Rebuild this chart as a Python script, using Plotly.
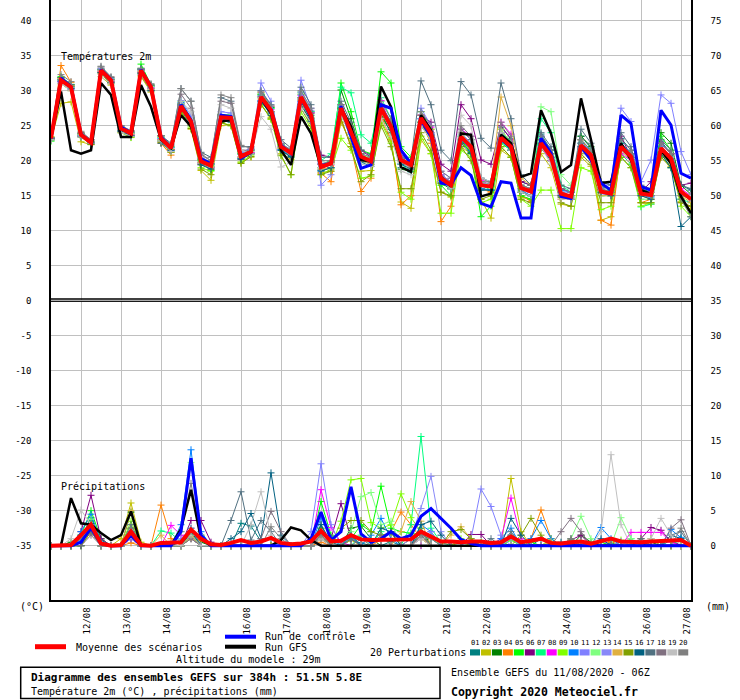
import pandas as pd
import plotly.graph_objects as go

# GEFS run 11/08/2020 06Z, 6-hourly steps up to 384h
times = pd.date_range("2020-08-11 06:00", periods=65, freq="6h")
day_ticks = pd.date_range("2020-08-12", periods=16, freq="D")
day_labels = ["12/08", "13/08", "14/08", "15/08", "16/08", "17/08", "18/08", "19/08",
              "20/08", "21/08", "22/08", "23/08", "24/08", "25/08", "26/08", "27/08"]

left_ticks = [40, 35, 30, 25, 20, 15, 10, 5, 0, -5, -10, -15, -20, -25, -30, -35]
right_ticks = [75, 70, 65, 60, 55, 50, 45, 40, 35, 30, 25, 20, 15, 10, 5, 0]

member_names = ["01", "02", "03", "04", "05", "06", "07", "08", "09", "10",
                "11", "12", "13", "14", "15", "16", "17", "18", "19", "20"]
member_colors = ["#008080", "#c0c000", "#008000", "#ff8000", "#00ff00", "#800080", "#00ff80",
                 "#ff00ff", "#80ff00", "#0080ff", "#8080ff", "#80ff80", "#8888f8", "#e0b040",
                 "#80a000", "#006080", "#507080", "#807080", "#c0c0c0", "#808080"]

# temperature 2m (C)
t_mean = [23.2, 31.5, 30.5, 23.7, 22.6, 32.9, 31.5, 24.6,
          23.9, 32.9, 30.5, 23.2, 21.8, 27.8, 25.6, 19.9,
          19.3, 26.2, 26.1, 20.6, 21.3, 29.1, 27.2, 22.0,
          21.1, 29.1, 26.5, 19.1, 19.6, 27.5, 24.1, 20.6,
          19.9, 27.5, 24.9, 20.1, 19.4, 26.1, 23.9, 17.5,
          16.5, 23.4, 22.0, 16.5, 16.3, 23.3, 22.0, 16.1,
          15.6, 22.5, 20.6, 15.3, 14.9, 22.2, 20.8, 15.6,
          15.3, 22.0, 20.6, 15.3, 15.1, 21.8, 20.3, 15.6,
          14.5]
t_ctrl = [23.2, 31.8, 30.6, 23.8, 22.6, 33.0, 31.6, 24.8,
          24.0, 33.0, 30.6, 23.4, 21.8, 28.0, 25.8, 20.3,
          19.6, 26.5, 26.3, 20.4, 21.2, 29.0, 27.2, 22.2,
          21.0, 29.0, 26.2, 19.3, 19.6, 27.8, 23.5, 18.9,
          19.4, 28.0, 27.5, 21.5, 19.6, 25.8, 23.5, 16.8,
          16.6, 19.0, 17.9, 13.9, 13.4, 17.0, 16.8, 11.8,
          11.8, 23.2, 21.1, 14.9, 14.6, 22.0, 20.1, 16.8,
          15.8, 26.5, 25.3, 16.3, 15.8, 27.2, 25.1, 18.2,
          17.5]
t_gfs = [23.2, 29.9, 21.5, 21.0, 21.5, 31.1, 29.4, 23.4,
         23.4, 30.8, 27.7, 23.0, 21.8, 26.5, 24.9, 20.1,
         19.4, 25.6, 25.8, 20.8, 21.1, 28.9, 26.8, 21.5,
         19.4, 26.3, 23.9, 19.1, 19.6, 27.5, 24.9, 20.1,
         19.9, 30.6, 27.7, 19.1, 18.4, 26.5, 24.4, 17.7,
         16.3, 23.9, 23.7, 14.9, 15.3, 23.7, 22.5, 17.7,
         18.2, 27.2, 23.9, 18.4, 19.4, 28.9, 23.0, 16.8,
         17.0, 22.5, 20.1, 15.8, 15.3, 21.5, 19.6, 14.9,
         12.5]

t_p01 = [23.0, 31.8, 30.8, 23.9, 22.4, 32.6, 31.2, 24.3,
         23.6, 32.5, 30.0, 22.8, 21.5, 27.2, 25.0, 19.5,
         19.0, 25.8, 25.5, 20.3, 21.0, 28.4, 26.8, 21.5,
         20.6, 28.5, 25.8, 18.6, 19.0, 26.8, 23.2, 19.8,
         19.2, 26.5, 24.0, 19.0, 18.4, 25.0, 23.0, 16.8,
         16.0, 24.5, 23.0, 17.5, 17.0, 24.8, 23.2, 17.0,
         16.5, 23.8, 21.5, 16.0, 15.5, 23.5, 21.8, 16.2,
         15.8, 23.2, 21.5, 16.0, 15.5, 22.8, 21.0, 16.5,
         15.8]
t_p02 = [23.0, 28.2, 28.4, 22.7, 22.3, 32.0, 30.8, 24.0,
         23.5, 32.0, 29.8, 22.6, 21.2, 26.8, 24.5, 18.6,
         17.2, 25.0, 25.2, 19.8, 20.5, 28.0, 26.2, 21.0,
         20.2, 28.2, 25.5, 18.3, 18.5, 25.5, 22.5, 18.5,
         18.6, 25.8, 22.8, 14.1, 13.2, 23.0, 21.0, 15.5,
         14.8, 22.0, 21.0, 14.5, 11.8, 21.5, 20.5, 14.8,
         14.5, 21.0, 19.0, 13.8, 13.5, 20.5, 19.2, 11.5,
         12.0, 21.0, 19.5, 14.0, 13.8, 20.5, 19.2, 14.2,
         13.0]
t_p03 = [23.2, 31.9, 30.8, 23.8, 22.6, 33.0, 31.6, 24.8,
         24.0, 33.2, 30.8, 23.4, 22.0, 28.2, 26.0, 20.2,
         19.5, 26.5, 26.4, 21.0, 21.5, 29.5, 27.6, 22.4,
         21.4, 29.0, 26.5, 19.0, 19.8, 30.1, 26.0, 21.0,
         20.0, 26.8, 24.0, 18.8, 18.5, 25.5, 23.0, 16.8,
         16.0, 22.8, 21.2, 16.0, 15.8, 23.0, 21.5, 15.5,
         15.0, 21.8, 20.0, 14.8, 14.5, 23.5, 22.0, 16.5,
         15.8, 22.5, 21.0, 15.5, 15.0, 24.0, 22.5, 16.5,
         15.2]
t_p04 = [23.4, 33.6, 31.2, 24.0, 22.8, 33.2, 31.8, 24.8,
         24.2, 33.0, 30.5, 22.5, 20.8, 27.5, 25.2, 19.5,
         18.8, 26.0, 25.8, 20.2, 21.0, 29.8, 27.8, 22.3,
         21.0, 29.5, 26.0, 18.2, 17.0, 26.0, 22.0, 15.6,
         17.5, 26.5, 23.0, 13.7, 15.0, 25.5, 22.5, 11.3,
         13.5, 22.5, 21.5, 16.0, 15.5, 24.5, 22.5, 15.0,
         14.2, 23.0, 21.5, 14.5, 15.0, 23.0, 21.0, 11.5,
         10.8, 21.5, 20.0, 14.0, 14.5, 21.0, 19.5, 14.0,
         13.5]
t_p05 = [22.8, 32.0, 30.9, 23.5, 22.4, 33.0, 31.6, 24.4,
         23.4, 33.8, 30.8, 23.6, 21.6, 28.5, 26.0, 20.0,
         18.6, 26.6, 26.5, 21.0, 21.6, 29.5, 27.5, 22.2,
         21.3, 29.8, 27.0, 19.5, 20.0, 31.1, 27.0, 21.5,
         21.0, 32.7, 31.1, 22.0, 20.5, 27.0, 24.5, 16.5,
         15.0, 23.0, 21.0, 12.0, 13.5, 22.5, 21.5, 15.0,
         14.5, 22.0, 20.0, 15.0, 14.8, 21.5, 20.5, 15.5,
         15.5, 22.5, 21.0, 15.8, 15.5, 23.5, 21.5, 14.5,
         12.5]
t_p06 = [23.2, 31.3, 30.4, 23.6, 22.6, 32.7, 31.3, 24.4,
         23.8, 32.6, 30.3, 23.0, 21.6, 27.6, 25.4, 19.8,
         19.2, 26.0, 26.0, 20.4, 21.2, 29.0, 27.0, 21.8,
         21.0, 28.8, 26.8, 20.8, 20.5, 28.0, 24.5, 21.5,
         20.5, 28.0, 25.5, 20.8, 19.8, 26.5, 25.5, 19.5,
         18.5, 28.0, 26.0, 20.1, 19.5, 25.0, 23.0, 17.0,
         16.5, 23.5, 21.5, 16.0, 15.5, 23.0, 21.5, 16.5,
         16.0, 23.5, 20.5, 15.5, 17.0, 22.5, 21.0, 16.5,
         16.8]
t_p07 = [23.0, 31.6, 30.6, 23.8, 22.7, 33.1, 31.7, 24.7,
         24.0, 33.0, 30.6, 23.3, 21.9, 28.0, 25.8, 20.1,
         19.4, 26.4, 26.3, 20.9, 21.5, 29.3, 27.5, 22.3,
         21.3, 29.5, 27.0, 20.0, 21.0, 30.5, 29.7, 23.7,
         22.5, 29.0, 26.0, 19.5, 18.5, 26.0, 23.5, 17.0,
         16.2, 23.5, 22.0, 16.5, 15.8, 24.0, 22.8, 16.0,
         15.5, 26.0, 24.0, 16.5, 15.5, 22.5, 21.0, 15.0,
         15.0, 21.0, 19.5, 13.4, 13.8, 21.0, 19.0, 14.5,
         14.0]
t_p08 = [23.1, 31.4, 30.3, 23.5, 22.5, 32.8, 31.4, 24.5,
         23.7, 32.8, 30.4, 23.1, 21.7, 27.9, 25.7, 19.7,
         19.0, 25.8, 26.0, 20.6, 21.2, 29.2, 27.3, 22.0,
         21.0, 29.3, 26.9, 19.5, 19.4, 27.0, 24.0, 20.5,
         20.2, 28.6, 25.0, 20.5, 19.5, 26.5, 24.8, 18.0,
         17.0, 24.5, 23.5, 17.2, 16.5, 25.5, 23.8, 16.0,
         15.5, 22.0, 20.0, 15.0, 14.5, 21.8, 20.5, 15.8,
         15.0, 21.0, 20.0, 15.5, 15.5, 22.5, 21.0, 16.0,
         15.0]
t_p09 = [23.4, 31.7, 30.6, 23.6, 22.5, 32.6, 31.1, 24.0,
         23.3, 32.4, 30.2, 22.9, 21.3, 27.0, 24.8, 19.0,
         18.5, 25.5, 25.0, 19.8, 20.8, 28.2, 25.9, 20.7,
         18.0, 27.0, 24.6, 18.0, 18.8, 23.2, 21.5, 17.5,
         17.8, 25.5, 22.5, 15.5, 14.5, 23.5, 21.0, 12.5,
         12.5, 21.5, 20.5, 14.0, 14.5, 22.0, 20.5, 14.5,
         13.5, 15.8, 15.8, 10.3, 10.3, 19.0, 18.5, 13.0,
         13.5, 20.5, 19.0, 13.5, 14.0, 21.0, 19.5, 13.5,
         12.0]
t_p10 = [23.2, 31.6, 30.5, 23.7, 22.7, 33.0, 31.5, 24.6,
         23.9, 33.1, 30.6, 23.2, 21.9, 28.3, 26.2, 20.4,
         19.6, 26.2, 26.0, 20.4, 21.0, 28.6, 26.8, 21.6,
         20.8, 28.5, 26.0, 18.7, 19.0, 27.0, 23.8, 20.0,
         19.5, 27.8, 25.2, 20.0, 19.0, 26.0, 23.8, 17.8,
         16.8, 23.0, 21.5, 16.0, 15.8, 22.8, 21.5, 15.8,
         15.0, 23.5, 21.5, 15.8, 15.5, 22.5, 21.5, 16.0,
         15.5, 22.5, 21.0, 15.0, 14.8, 22.0, 20.5, 15.5,
         14.8]
t_p11 = [23.0, 31.2, 30.2, 23.6, 22.5, 33.2, 31.8, 24.8,
         24.1, 32.7, 30.4, 23.0, 21.4, 28.6, 26.5, 20.3,
         19.5, 27.0, 26.8, 21.2, 21.8, 31.1, 28.5, 22.5,
         21.5, 31.5, 27.5, 16.5, 18.0, 27.0, 24.5, 20.5,
         19.5, 28.0, 25.5, 20.5, 19.5, 27.5, 25.0, 18.5,
         17.5, 24.0, 22.5, 17.0, 16.5, 24.0, 22.5, 16.5,
         16.0, 23.0, 21.0, 15.5, 15.5, 22.0, 20.5, 16.0,
         17.0, 27.5, 25.6, 17.0, 20.1, 29.4, 28.2, 21.3,
         18.0]
t_p12 = [23.3, 31.5, 30.4, 23.7, 22.7, 33.0, 31.6, 24.7,
         23.9, 32.8, 30.6, 23.3, 21.8, 27.6, 25.5, 19.8,
         19.2, 26.0, 26.0, 20.5, 21.3, 29.0, 27.0, 21.9,
         21.0, 28.8, 26.2, 19.0, 19.5, 27.2, 24.2, 20.8,
         20.5, 28.0, 25.2, 20.0, 19.0, 25.5, 23.5, 17.0,
         16.2, 23.5, 22.5, 17.0, 16.5, 24.5, 22.5, 16.5,
         16.0, 27.7, 27.0, 18.0, 16.5, 23.0, 21.5, 16.0,
         15.0, 22.0, 21.0, 14.5, 14.5, 21.5, 20.0, 15.0,
         14.5]
t_p13 = [23.1, 31.3, 30.2, 23.5, 22.4, 32.5, 31.0, 24.2,
         23.5, 32.3, 30.0, 22.8, 21.5, 27.5, 25.3, 19.6,
         19.0, 26.5, 26.4, 20.9, 21.6, 30.0, 27.8, 22.4,
         21.2, 29.8, 27.2, 19.6, 19.8, 27.8, 24.6, 20.8,
         20.0, 27.0, 24.5, 19.6, 19.0, 26.0, 24.0, 18.0,
         17.0, 23.8, 22.3, 16.8, 16.5, 23.5, 22.0, 16.0,
         15.5, 22.0, 20.5, 15.2, 14.8, 22.0, 20.5, 15.3,
         15.0, 22.0, 20.8, 15.0, 15.0, 21.5, 20.0, 15.5,
         14.2]
t_p14 = [23.3, 31.8, 30.7, 23.8, 22.7, 32.8, 31.4, 24.5,
         23.8, 32.7, 30.2, 23.0, 21.6, 27.6, 25.4, 19.7,
         19.1, 26.2, 26.0, 20.5, 21.0, 28.8, 27.0, 21.8,
         20.8, 28.6, 26.2, 18.8, 19.0, 27.0, 24.0, 20.0,
         19.5, 27.0, 24.5, 19.8, 19.0, 26.5, 24.5, 17.5,
         16.5, 24.0, 22.0, 16.5, 16.5, 29.1, 25.0, 17.5,
         16.5, 22.5, 20.5, 15.0, 14.5, 21.5, 20.0, 15.0,
         15.0, 21.5, 20.0, 15.0, 14.5, 21.0, 19.5, 15.0,
         14.0]
t_p15 = [23.0, 31.0, 30.0, 23.4, 22.3, 32.4, 31.0, 24.1,
         23.4, 32.2, 30.0, 22.7, 21.2, 27.0, 24.6, 18.8,
         18.0, 25.4, 25.0, 19.6, 20.6, 28.0, 26.0, 20.8,
         18.0, 27.5, 25.0, 18.0, 18.5, 26.0, 22.0, 17.0,
         18.0, 25.0, 22.0, 16.0, 16.0, 24.0, 21.5, 15.5,
         15.0, 22.0, 20.0, 14.5, 15.0, 22.0, 20.5, 14.5,
         14.0, 23.0, 21.0, 14.0, 13.5, 21.0, 19.5, 14.0,
         14.0, 20.5, 19.0, 14.0, 14.0, 20.5, 19.0, 14.0,
         13.5]
t_p16 = [23.2, 31.4, 30.3, 23.4, 22.5, 32.6, 31.2, 24.2,
         23.6, 32.5, 30.0, 22.5, 21.5, 28.0, 25.5, 19.4,
         18.8, 26.0, 25.6, 20.2, 21.0, 28.5, 26.5, 21.5,
         20.5, 28.0, 25.6, 18.5, 19.0, 27.5, 24.5, 20.4,
         19.8, 27.2, 24.5, 19.5, 18.8, 25.5, 23.0, 17.0,
         16.0, 22.5, 21.0, 15.8, 15.8, 23.0, 21.5, 15.5,
         15.0, 22.5, 20.5, 15.0, 14.5, 22.0, 20.5, 15.5,
         15.0, 21.5, 20.5, 15.0, 14.5, 21.0, 19.0, 10.6,
         12.0]
t_p17 = [23.3, 31.9, 30.9, 24.0, 23.0, 33.4, 31.9, 25.0,
         24.3, 33.0, 30.8, 23.6, 22.5, 30.3, 28.5, 21.2,
         20.5, 29.0, 28.5, 22.0, 22.0, 30.0, 28.0, 23.0,
         21.8, 30.5, 28.0, 20.5, 20.5, 28.5, 25.5, 21.5,
         20.8, 28.0, 25.5, 20.5, 20.0, 31.4, 28.0, 21.5,
         20.0, 31.3, 29.4, 23.2, 21.8, 31.1, 26.0, 18.0,
         16.5, 24.0, 22.0, 16.5, 16.0, 24.5, 22.5, 17.0,
         16.5, 24.0, 22.0, 16.5, 16.0, 23.0, 21.5, 16.5,
         16.0]
t_p18 = [23.2, 31.6, 30.6, 23.9, 22.8, 33.0, 31.6, 24.8,
         24.1, 33.0, 30.8, 23.5, 22.2, 29.5, 27.5, 20.8,
         20.0, 28.5, 28.2, 21.5, 21.5, 29.2, 27.0, 22.0,
         21.2, 29.0, 26.8, 19.5, 19.8, 27.5, 24.5, 20.5,
         20.0, 27.5, 25.0, 20.0, 19.0, 26.5, 24.0, 17.8,
         17.0, 24.5, 23.0, 17.5, 16.8, 24.0, 22.5, 16.5,
         16.0, 23.0, 21.0, 16.0, 15.5, 22.5, 21.0, 16.0,
         15.5, 22.0, 21.0, 15.5, 15.0, 22.5, 21.0, 15.0,
         14.8]
t_p19 = [23.0, 31.0, 30.0, 23.4, 22.5, 32.0, 31.0, 24.0,
         23.5, 32.3, 30.2, 22.8, 21.3, 28.5, 27.0, 20.5,
         19.8, 28.0, 27.5, 21.5, 21.0, 26.3, 24.5, 19.1,
         19.8, 27.5, 25.5, 19.0, 19.5, 26.5, 23.5, 19.5,
         19.2, 26.0, 23.5, 18.5, 18.0, 25.0, 23.0, 17.0,
         16.0, 26.5, 25.0, 17.5, 17.0, 24.0, 21.5, 15.5,
         15.0, 22.0, 19.5, 14.5, 14.5, 21.5, 20.0, 16.0,
         16.0, 21.5, 20.0, 15.5, 15.5, 21.5, 20.5, 15.5,
         15.0]
t_p20 = [23.3, 32.3, 31.3, 24.2, 23.0, 33.5, 32.0, 25.0,
         24.2, 33.2, 31.0, 23.6, 22.3, 30.3, 28.5, 21.0,
         20.0, 29.4, 29.0, 22.2, 21.8, 29.8, 27.8, 22.5,
         21.5, 30.0, 27.5, 20.0, 20.0, 28.0, 25.0, 21.0,
         20.5, 28.5, 26.0, 20.5, 19.5, 27.0, 25.0, 18.5,
         17.5, 25.0, 23.5, 17.0, 17.0, 25.5, 23.5, 16.5,
         16.0, 23.5, 21.5, 15.5, 15.0, 23.0, 21.5, 16.0,
         15.5, 23.0, 21.5, 16.0, 15.0, 22.5, 21.0, 14.5,
         12.0]

# precipitation (mm per 6h)
p_mean = [0.0, 0.0, 0.1, 1.5, 3.0, 0.3, 0.0, 0.1,
          2.0, 0.1, 0.0, 0.4, 0.5, 0.5, 2.3, 1.0,
          0.2, 0.1, 0.4, 0.8, 0.4, 0.6, 1.1, 0.4,
          0.2, 0.3, 0.6, 2.1, 0.6, 0.7, 1.5, 0.9,
          0.8, 0.8, 0.8, 0.9, 0.9, 2.0, 1.3, 0.6,
          0.6, 0.5, 0.6, 0.6, 0.4, 0.5, 1.3, 0.5,
          0.7, 1.0, 0.4, 0.3, 0.5, 0.6, 0.3, 0.6,
          1.0, 0.6, 0.5, 0.5, 0.6, 0.7, 0.7, 0.8,
          0.0]
p_ctrl = [0.0, 0.0, 0.0, 0.5, 2.5, 0.3, 0.0, 0.0,
          1.5, 0.0, 0.0, 0.0, 0.0, 2.0, 12.5, 1.5,
          0.0, 0.0, 0.0, 0.0, 0.0, 0.0, 0.0, 0.0,
          0.0, 0.0, 1.0, 4.8, 0.8, 2.0, 8.4, 1.7,
          0.5, 1.0, 2.0, 1.0, 1.5, 4.2, 5.3, 3.9,
          2.5, 0.9, 0.3, 0.0, 0.0, 0.0, 0.0, 0.0,
          0.0, 0.0, 0.0, 0.0, 0.0, 0.0, 0.0, 0.0,
          0.0, 0.0, 0.0, 0.0, 0.0, 0.0, 0.0, 0.0,
          0.0]
p_gfs = [0.0, 0.0, 6.8, 3.2, 3.0, 1.8, 0.8, 1.5,
         4.9, 0.0, 0.0, 0.0, 0.0, 2.4, 8.0, 1.0,
         0.0, 0.0, 0.0, 0.0, 0.0, 0.0, 0.0, 0.8,
         2.6, 2.2, 0.8, 0.0, 0.0, 0.0, 0.0, 0.0,
         0.0, 0.0, 0.0, 0.0, 0.0, 0.0, 0.0, 0.0,
         0.0, 0.0, 0.0, 0.0, 0.0, 0.0, 0.0, 0.0,
         0.0, 0.0, 0.0, 0.0, 0.0, 0.0, 0.0, 0.0,
         0.0, 0.0, 0.0, 0.0, 0.0, 0.0, 0.0, 0.0,
         0.0]

# perturbations: step index -> mm (other steps are dry)
p_p01 = {3: 1.0, 4: 4.0, 5: 0.8, 8: 1.5, 13: 0.5, 14: 1.5, 19: 3.2, 20: 2.8, 21: 0.6, 22: 1.0, 27: 3.0,
         28: 0.5, 30: 0.8, 31: 0.4, 34: 0.6, 37: 2.0, 38: 1.0, 46: 1.5, 49: 1.0, 53: 0.5, 56: 0.4, 59: 0.6, 62: 0.8}
p_p02 = {3: 0.8, 4: 2.5, 7: 1.0, 8: 6.1, 9: 0.5, 14: 1.0, 27: 1.5, 30: 0.8, 37: 1.0, 41: 0.5, 46: 9.6,
         47: 2.0, 50: 0.5, 57: 0.5}
p_p03 = {2: 0.5, 3: 1.5, 4: 3.5, 8: 4.8, 14: 2.0, 15: 0.5, 27: 1.0, 30: 2.5, 31: 2.8, 32: 1.0, 36: 1.0,
         37: 2.5, 45: 0.5, 53: 1.5, 54: 0.5, 60: 0.5}
p_p04 = {3: 0.5, 4: 2.0, 8: 0.4, 11: 5.8, 12: 1.0, 14: 1.5, 15: 0.8, 27: 0.5, 33: 0.8, 34: 2.0, 35: 4.8,
         36: 3.0, 37: 1.0, 48: 1.0, 49: 5.1, 50: 1.0, 56: 0.6}
p_p05 = {3: 1.5, 4: 5.0, 5: 1.0, 8: 2.5, 14: 1.5, 27: 6.3, 28: 1.5, 30: 1.0, 31: 3.0, 32: 2.0, 33: 8.5,
         34: 2.5, 35: 2.0, 36: 1.8, 37: 1.5, 43: 0.5, 48: 0.5, 55: 0.5}
p_p06 = {3: 2.0, 4: 7.2, 5: 1.0, 8: 1.0, 14: 3.6, 15: 3.6, 16: 0.5, 27: 1.5, 28: 1.0, 29: 6.0, 30: 1.0,
         42: 1.6, 43: 1.6, 52: 0.8, 53: 1.5, 59: 1.0, 60: 2.6, 61: 2.2, 62: 0.6}
p_p07 = {4: 3.0, 8: 2.0, 11: 2.1, 12: 1.8, 13: 0.5, 14: 2.0, 27: 2.5, 31: 1.5, 33: 2.0, 36: 3.0, 37: 15.6,
         38: 2.5, 39: 0.5, 46: 0.8, 58: 1.0, 63: 1.0}
p_p08 = {3: 1.0, 4: 2.5, 8: 2.0, 12: 2.9, 13: 1.5, 14: 1.0, 27: 8.0, 28: 2.6, 29: 0.5, 37: 1.5, 45: 1.0,
         46: 6.8, 47: 1.0, 58: 1.9, 59: 1.9, 60: 1.9, 61: 1.9, 62: 0.5}
p_p09 = {4: 2.0, 8: 3.5, 14: 1.0, 26: 0.8, 27: 1.5, 29: 3.5, 30: 9.4, 31: 9.6, 32: 3.3, 33: 2.5, 34: 3.0,
         35: 7.4, 36: 4.0, 37: 2.0, 38: 1.5, 41: 1.0, 46: 0.8, 50: 1.0, 57: 0.8}
p_p10 = {3: 2.0, 4: 4.5, 5: 0.5, 8: 1.5, 13: 3.0, 14: 13.7, 15: 2.0, 27: 4.0, 28: 1.0, 30: 1.5, 32: 1.5,
         33: 3.9, 34: 1.0, 37: 3.0, 38: 2.0, 45: 1.0, 46: 2.5, 48: 1.0, 49: 3.6, 50: 1.0, 55: 2.6, 56: 1.0,
         62: 2.3, 63: 1.2}
p_p11 = {3: 0.8, 4: 2.0, 8: 1.0, 13: 1.0, 14: 2.5, 26: 2.0, 27: 11.7, 28: 3.0, 37: 1.0, 38: 2.0, 42: 1.0,
         43: 8.1, 44: 5.6, 45: 1.5, 57: 0.6}
p_p12 = {3: 1.0, 4: 3.8, 8: 2.0, 13: 2.0, 14: 11.9, 15: 1.5, 27: 2.0, 30: 2.0, 31: 7.0, 32: 7.6, 33: 3.0,
         34: 3.5, 37: 2.0, 52: 1.0, 53: 4.2, 54: 1.0, 57: 4.0, 58: 1.0}
p_p13 = {4: 2.5, 8: 1.5, 14: 1.0, 27: 2.0, 30: 1.0, 36: 1.0, 37: 5.3, 38: 9.9, 39: 2.0, 46: 1.0, 52: 0.5,
         55: 0.8}
p_p14 = {4: 2.0, 8: 5.0, 11: 1.5, 14: 1.2, 27: 1.5, 35: 2.0, 36: 6.3, 37: 3.5, 40: 1.5, 41: 2.7, 42: 1.0,
         50: 0.6, 59: 1.0}
p_p15 = {4: 2.0, 8: 2.5, 14: 1.5, 27: 2.5, 29: 2.5, 30: 3.6, 31: 3.6, 32: 2.0, 33: 1.5, 34: 1.8, 37: 1.5,
         40: 2.0, 41: 2.3, 42: 1.0, 47: 1.5, 48: 3.9, 49: 1.5, 52: 0.8, 60: 1.0}
p_p16 = {4: 3.2, 8: 2.0, 14: 2.0, 18: 1.0, 19: 2.0, 20: 4.6, 21: 1.0, 22: 10.4, 23: 1.5, 27: 3.0, 30: 1.5,
         33: 2.5, 34: 2.0, 37: 3.0, 38: 3.5, 39: 1.5, 46: 3.9, 47: 1.5, 51: 0.5, 55: 1.0, 62: 1.5, 63: 1.0}
p_p17 = {3: 1.0, 4: 2.0, 8: 3.0, 14: 2.5, 18: 3.6, 19: 7.7, 20: 0.8, 21: 3.6, 22: 2.0, 27: 1.5, 30: 1.0,
         37: 2.0, 44: 1.0, 46: 2.0, 52: 1.0, 59: 1.0, 62: 1.5, 63: 2.0}
p_p18 = {4: 1.5, 8: 2.0, 14: 1.0, 21: 1.0, 22: 4.9, 23: 2.0, 27: 1.0, 33: 1.5, 37: 1.5, 51: 2.0, 52: 3.9,
         53: 2.0, 62: 2.5, 63: 3.7}
p_p19 = {2: 1.0, 3: 5.1, 4: 3.0, 8: 1.5, 14: 1.5, 20: 3.0, 21: 7.7, 22: 1.5, 27: 1.0, 37: 1.0, 55: 2.0,
         56: 13.0, 57: 3.0, 60: 1.0, 61: 3.9, 62: 1.5}
p_p20 = {3: 1.0, 4: 3.0, 8: 2.5, 13: 2.0, 14: 8.9, 15: 1.5, 22: 2.7, 23: 1.0, 27: 1.5, 31: 1.0, 37: 1.5,
         38: 1.0, 46: 1.5, 52: 1.0, 63: 2.5}

t_members = [t_p01, t_p02, t_p03, t_p04, t_p05, t_p06, t_p07, t_p08, t_p09, t_p10,
             t_p11, t_p12, t_p13, t_p14, t_p15, t_p16, t_p17, t_p18, t_p19, t_p20]
p_members = [p_p01, p_p02, p_p03, p_p04, p_p05, p_p06, p_p07, p_p08, p_p09, p_p10,
             p_p11, p_p12, p_p13, p_p14, p_p15, p_p16, p_p17, p_p18, p_p19, p_p20]

FONT = "DejaVu Sans Mono"
GRID = "#c0c0c0"


def px_x(px):  # pixel -> paper (plot area is 51..691 x 0..600)
    return (px - 51) / 640


def px_y(py):
    return (600 - py) / 600


fig = go.Figure()

for t, pr, c in zip(t_members, p_members, member_colors):
    mk = dict(symbol="cross-thin", size=5, line=dict(color=c, width=1))
    fig.add_trace(go.Scatter(x=times, y=t, mode="lines+markers", line=dict(color=c, width=1),
                             marker=mk, yaxis="y", hoverinfo="skip"))
    fig.add_trace(go.Scatter(x=times, y=[pr.get(i, 0.0) for i in range(len(times))],
                             mode="lines+markers", line=dict(color=c, width=1),
                             marker=mk, yaxis="y2", hoverinfo="skip"))

for t, pr, c, w in [(t_gfs, p_gfs, "#000000", 2.5), (t_ctrl, p_ctrl, "#0000ff", 3), (t_mean, p_mean, "#ff0000", 4)]:
    fig.add_trace(go.Scatter(x=times, y=t, mode="lines", line=dict(color=c, width=w), yaxis="y", hoverinfo="skip"))
    fig.add_trace(go.Scatter(x=times, y=pr, mode="lines", line=dict(color=c, width=w), yaxis="y2", hoverinfo="skip"))

fig.update_layout(
    width=740, height=700,
    margin=dict(l=51, r=49, t=0, b=100),
    plot_bgcolor="white", paper_bgcolor="white",
    showlegend=False,
    font=dict(family=FONT, size=10, color="black"),
    xaxis=dict(range=[times[0], times[-1]], tickvals=day_ticks, ticktext=day_labels, tickangle=-90,
               showgrid=True, gridcolor=GRID, gridwidth=1, zeroline=False,
               showline=True, linecolor="black", linewidth=1.5, ticks="",
               ticklabelshift=6, ticklabelstandoff=2, tickfont=dict(size=9)),
    yaxis=dict(range=[-42.76, 42.96], tickvals=left_ticks, ticktext=[str(v) for v in left_ticks],
               showgrid=True, gridcolor=GRID, gridwidth=1, zeroline=False,
               showline=True, linecolor="black", linewidth=1.5, ticks="",
               ticklabelstandoff=16, tickfont=dict(size=9)),
    yaxis2=dict(range=[-7.76, 77.96], overlaying="y", side="right", tickvals=right_ticks,
                ticktext=[str(v) for v in right_ticks], showgrid=False, zeroline=False,
                showline=True, linecolor="black", linewidth=1.5, ticks="",
                ticklabelstandoff=16, tickfont=dict(size=9)),
)

# double separator between the two panels
fig.add_shape(type="line", xref="paper", yref="y", x0=0, x1=1, y0=0.25, y1=0.25,
              line=dict(color="black", width=1.5))
fig.add_shape(type="line", xref="paper", yref="y", x0=0, x1=1, y0=-0.1, y1=-0.1,
              line=dict(color="black", width=1))


def label(text, x, y, xanchor="left", size=10, bold=False):
    if bold:
        text = "<b>" + text + "</b>"
    fig.add_annotation(text=text, xref="paper", yref="paper", x=px_x(x), y=px_y(y),
                       xanchor=xanchor, yanchor="middle", showarrow=False,
                       font=dict(family=FONT, size=size, color="black"))


label("Températures 2m", 59, 56.7)
label("Précipitations", 59, 486.7)
label("(°C)", 31.5, 606.7, xanchor="center")
label("(mm)", 718, 606.7, xanchor="center")

# legend
for x0, y0, col, w in [(35, 646.7, "#ff0000", 5), (225, 636.7, "#0000ff", 4), (225, 646.7, "#000000", 4)]:
    fig.add_shape(type="line", xref="paper", yref="paper", x0=px_x(x0), x1=px_x(x0 + 31),
                  y0=px_y(y0), y1=px_y(y0), line=dict(color=col, width=w))
label("Moyenne des scénarios", 74, 647)
label("Run de contrôle", 263, 636)
label("Run GFS", 263, 647)
label("Altitude du modele : 29m", 323, 659.5, xanchor="right")
label("20 Perturbations", 368, 652)
for i, (name, col) in enumerate(zip(member_names, member_colors)):
    x0 = 470 + 10.96 * i
    fig.add_shape(type="rect", xref="paper", yref="paper", x0=px_x(x0), x1=px_x(x0 + 10),
                  y0=px_y(655.5), y1=px_y(649.3), fillcolor=col, line=dict(width=0))
    label(name, x0 + 5, 643, xanchor="center", size=7)

# footer
fig.add_shape(type="rect", xref="paper", yref="paper", x0=px_x(20.7), x1=px_x(440),
              y0=px_y(698.5), y1=px_y(667.3), line=dict(color="black", width=1.5))
label("Diagramme des ensembles GEFS sur 384h : 51.5N 5.8E", 29, 677.5, size=11, bold=True)
label("Température 2m (°C) , précipitations (mm)", 29, 691.5)
label("Ensemble GEFS du 11/08/2020 - 06Z", 449, 672)
label("Copyright 2020 Meteociel.fr", 449, 692, size=11.5, bold=True)

# the page body has a default 8px margin; drop it so the figure sits at 0,0
fig.write_html("out.html", config={"displayModeBar": False},
               post_script="document.body.style.margin='0';")
